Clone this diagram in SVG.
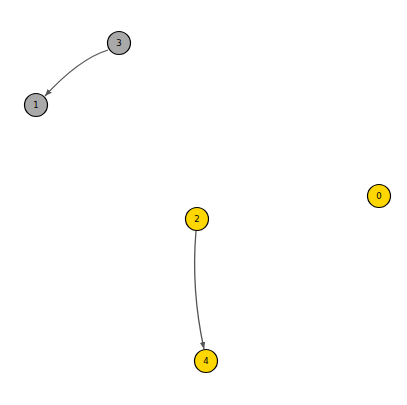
<svg xmlns="http://www.w3.org/2000/svg" width="407" height="405" viewBox="0 0 407 405">
<style>
.node{stroke:#000;stroke-width:1.2}
.gold{fill:#FFD700}
.gray{fill:#A9A9A9}
.lbl{font-family:"DejaVu Sans",sans-serif;font-size:8.5px;fill:#000;text-anchor:middle;dominant-baseline:central}
.edge{fill:none;stroke:#555;stroke-width:1.3}
</style>
<defs>
<marker id="arr" viewBox="0 0 10 10" refX="10" refY="5" markerWidth="7" markerHeight="7" markerUnits="userSpaceOnUse" orient="auto">
<path d="M0,1 L10,5 L0,9 z" fill="#555"/>
</marker>
</defs>
<rect width="407" height="405" fill="#fff"/>
<g id="edges">
<path class="edge" d="M108,50 Q79,59 45,96" marker-end="url(#arr)"/>
<path class="edge" d="M196,231 Q191,290 204,349" marker-end="url(#arr)"/>
</g>
<g id="node0"><circle class="node gold" cx="379" cy="196" r="11.5"/><text class="lbl" x="379" y="196">0</text></g>
<g id="node1"><circle class="node gray" cx="36" cy="105" r="11.5"/><text class="lbl" x="36" y="105">1</text></g>
<g id="node2"><circle class="node gold" cx="197" cy="219" r="11.5"/><text class="lbl" x="197" y="219">2</text></g>
<g id="node3"><circle class="node gray" cx="119" cy="43" r="11.5"/><text class="lbl" x="119" y="43">3</text></g>
<g id="node4"><circle class="node gold" cx="206" cy="361" r="11.5"/><text class="lbl" x="206" y="361">4</text></g>
</svg>
